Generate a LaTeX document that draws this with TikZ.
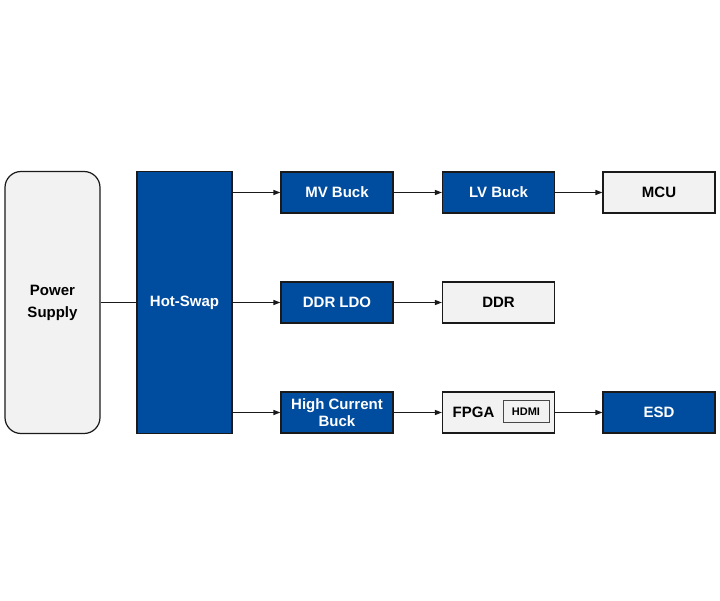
\documentclass[tikz,border=0pt]{standalone}
\usepackage{fontspec}
\setmainfont{Liberation Sans}
\usepackage{xcolor}
\definecolor{cBlue}{HTML}{004C9F}
\definecolor{cLight}{HTML}{F2F2F2}
\definecolor{cLine}{HTML}{1A1A1A}
\usetikzlibrary{positioning,arrows.meta,calc}
\tikzset{
  blk/.style={draw=cLine,line width=1.2pt,minimum width=112pt,minimum height=41pt,
    align=center,inner sep=0pt,font=\fontsize{15}{17}\selectfont\bfseries},
  blk-blue/.style={blk,fill=cBlue,text=white},
  blk-gray/.style={blk,fill=cLight,text=black},
  tall/.style={minimum width=95pt,minimum height=262pt},
  arrow/.style={-{Triangle[length=7pt,width=5pt]},line width=1.2pt,draw=cLine},
  link/.style={line width=1.2pt,draw=cLine},
}

\begin{document}
\begin{tikzpicture}[x=1pt,y=1pt]
  \useasboundingbox (0,0) rectangle (720,600);
  % left column
  \node[blk-gray,tall,rounded corners=16pt,font=\fontsize{15}{22}\selectfont\bfseries] (ps) at (52.5,297.5) {Power\\Supply};
  \node[blk-blue,tall] (hs) at (184.5,297.5) {Hot-Swap};
  % rows
  \node[blk-blue] (mv) at (337,407.5) {MV Buck};
  \node[blk-blue] (lv) at (498.5,407.5) {LV Buck};
  \node[blk-gray] (mcu) at (659,407.5) {MCU};
  \node[blk-blue] (ldo) at (337,297.5) {DDR LDO};
  \node[blk-gray] (ddr) at (498.5,297.5) {DDR};
  \node[blk-blue] (hcb) at (337,187.5) {High Current\\Buck};
  \node[blk-gray] (fpga) at (498.5,187.5) {\hspace*{-50pt}FPGA};
  \node[draw=cLine!80,line width=1pt,fill=cLight,minimum width=46pt,minimum height=22pt,
    inner sep=0pt,font=\fontsize{11}{12}\selectfont\bfseries] (hdmi) at (526,188) {HDMI};
  \node[blk-blue] (esd) at (659,187.5) {ESD};
  % connectors
  \draw[link] (ps) -- (hs);
  \draw[arrow] (hs.east |- mv) -- (mv);
  \draw[arrow] (hs.east |- ldo) -- (ldo);
  \draw[arrow] (hs.east |- hcb) -- (hcb);
  \draw[arrow] (mv) -- (lv);
  \draw[arrow] (lv) -- (mcu);
  \draw[arrow] (ldo) -- (ddr);
  \draw[arrow] (hcb) -- (fpga);
  \draw[arrow] (fpga) -- (esd);
\end{tikzpicture}
\end{document}
